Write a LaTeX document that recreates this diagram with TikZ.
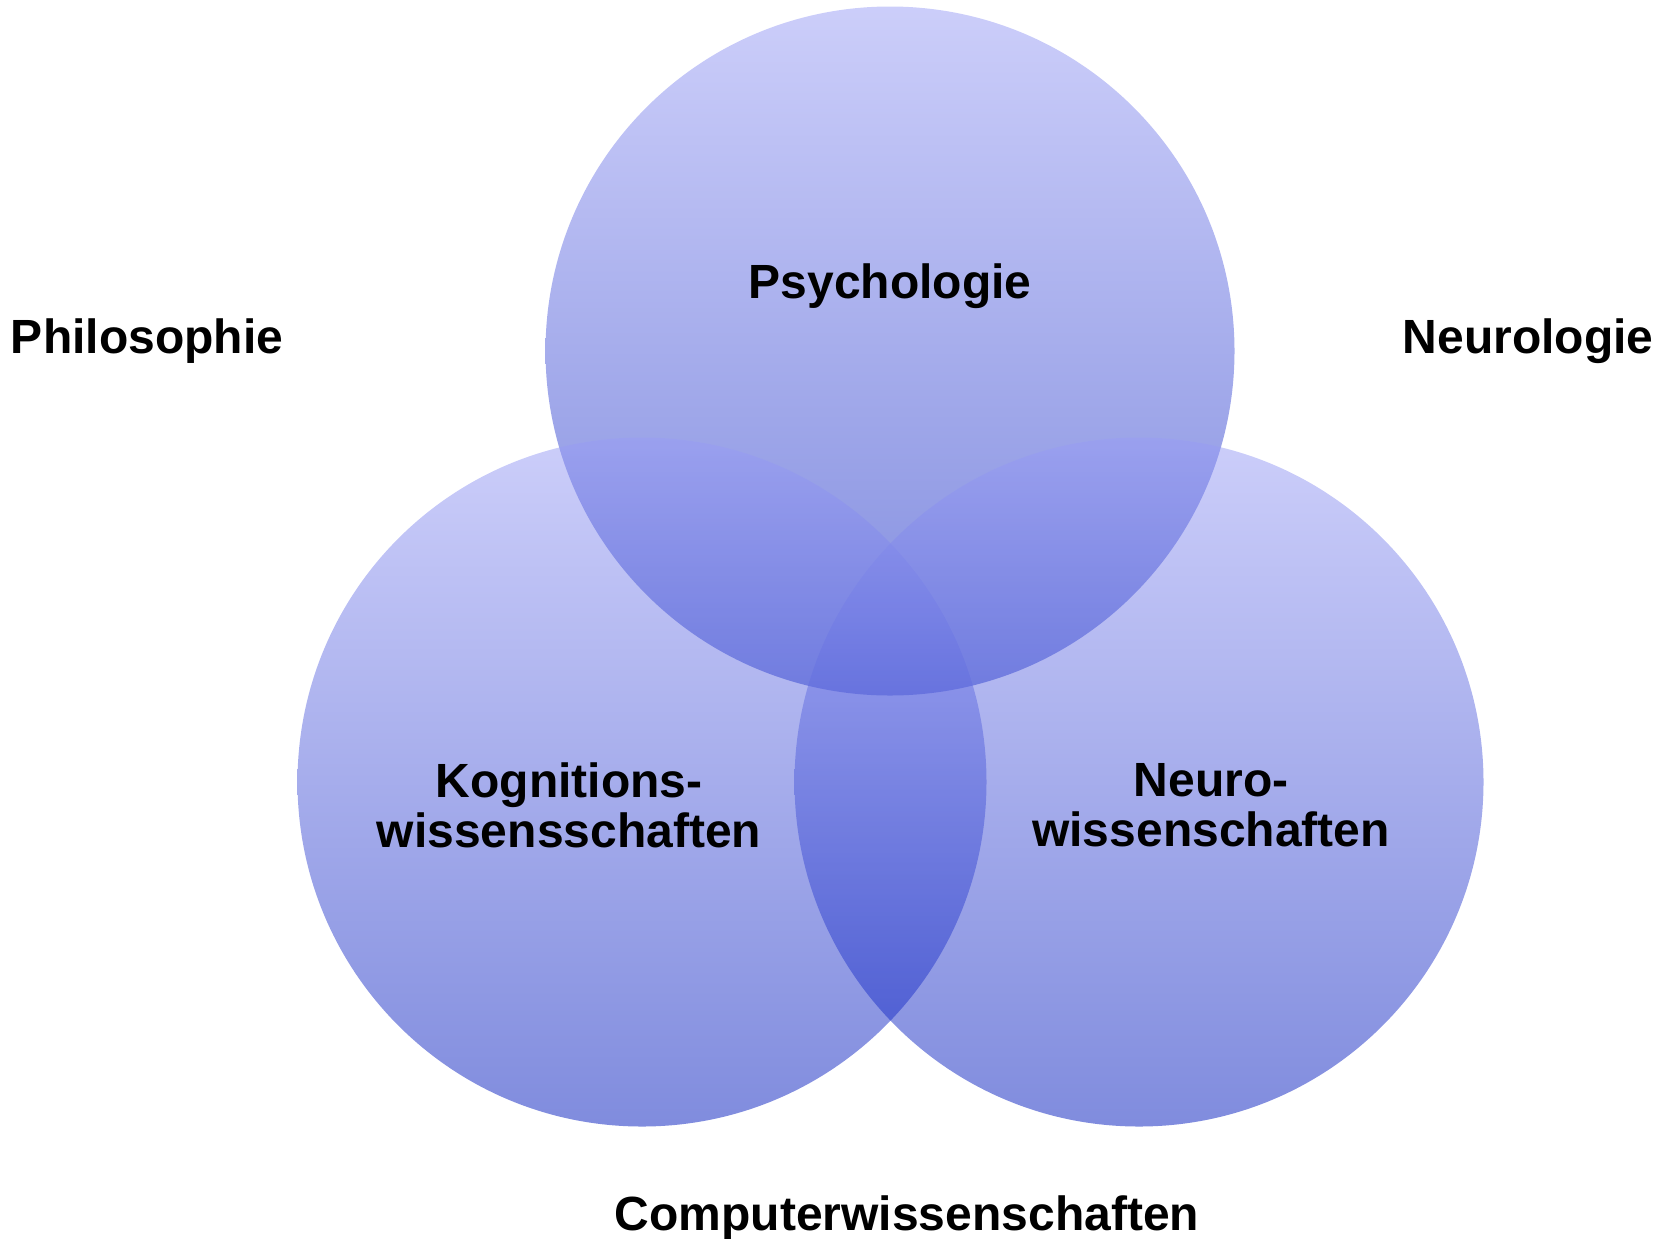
\documentclass[tikz,border=0pt]{standalone}
\usepackage{fontspec}
\setmainfont{Liberation Sans}
\usepackage{tikz}
\usepackage{xcolor}

\definecolor{venntop}{RGB}{153,157,245}
\definecolor{vennbottom}{RGB}{1,25,189}

\begin{document}
\begin{tikzpicture}[x=0.5pt, y=-0.5pt,
    disc/.style={top color=venntop, bottom color=vennbottom, fill opacity=0.5},
    fach/.style={font=\fontsize{24}{25}\selectfont\bfseries, align=center, inner sep=0pt}]
            \useasboundingbox (0,0) rectangle (1669,1238);
            
            \shade[disc] (890,351) circle (344.5);
            \shade[disc] (642,782) circle (344.5);
            \shade[disc] (1139,782) circle (344.5);
            
            \node[fach, anchor=base] (psy)    at (890,298)  {Psychologie};
            \node[fach, anchor=base] (phil)   at (147,353)  {Philosophie};
            \node[fach, anchor=base] (neurol) at (1528,353) {Neurologie};
            
            \node[fach] (kogwiss)   at (569,805)  {Kognitions-\\wissensschaften};
            \node[fach] (neurowiss) at (1211,805) {Neuro-\\wissenschaften};
            
            \node[fach, anchor=base] (compwiss) at (907,1230) {Computerwissenschaften};
            \end{tikzpicture}
\end{document}
